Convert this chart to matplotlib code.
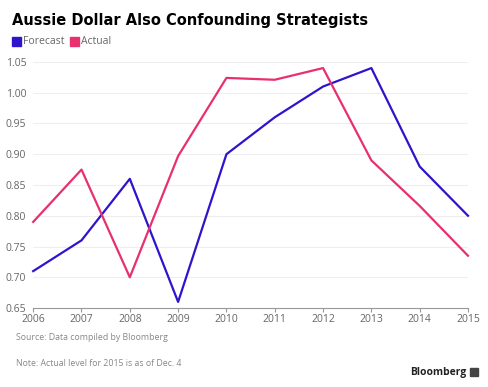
import matplotlib
matplotlib.use("Agg")
import matplotlib.pyplot as plt
from matplotlib.patches import Rectangle

# data
years = [2006, 2007, 2008, 2009, 2010, 2011, 2012, 2013, 2014, 2015]
forecast = [0.71, 0.76, 0.86, 0.66, 0.90, 0.96, 1.01, 1.04, 0.88, 0.80]
actual = [0.79, 0.875, 0.70, 0.897, 1.024, 1.021, 1.04, 0.89, 0.816, 0.735]
y_ticks = [0.65, 0.70, 0.75, 0.80, 0.85, 0.90, 0.95, 1.00, 1.05]

BLUE = "#2E14CC"
PINK = "#E8306E"
GRAY = "#666666"
GRID = "#EEEEEE"

plt.rcParams["font.family"] = ["Open Sans", "DejaVu Sans"]

fig = plt.figure(figsize=(4.88, 3.87), dpi=100)
ax = fig.add_axes([0.068, 0.204, 0.891, 0.636])

ax.plot(years, forecast, color=BLUE, lw=1.6, clip_on=False)
ax.plot(years, actual, color=PINK, lw=1.6, clip_on=False)

ax.set_xlim(2006, 2015)
ax.set_ylim(0.65, 1.05)
ax.set_xticks(years)
ax.set_xticklabels([str(y) for y in years])
ax.set_yticks(y_ticks)
ax.set_yticklabels([f"{v:.2f}" for v in y_ticks])

for s in ["top", "right", "left"]:
    ax.spines[s].set_visible(False)
ax.spines["bottom"].set_color("#999999")
ax.spines["bottom"].set_linewidth(0.8)
ax.yaxis.grid(True, color=GRID, lw=0.8)
ax.set_axisbelow(True)
ax.tick_params(axis="y", length=0, pad=5, labelsize=7.5, labelcolor=GRAY)
ax.tick_params(axis="x", length=3, width=0.8, color="#999999", pad=1,
               labelsize=7.5, labelcolor=GRAY)

# title and legend
fig.text(12 / 488, 1 - 20 / 387, "Aussie Dollar Also Confounding Strategists",
         fontsize=10.5, fontweight="bold", color="black", va="center",
         family=["DejaVu Sans"])
fig.patches.append(Rectangle((12 / 488, 1 - 46 / 387), 9 / 488, 9 / 387,
                             transform=fig.transFigure, color=BLUE))
fig.text(23 / 488, 1 - 42 / 387, "Forecast", fontsize=7.5, color=GRAY, va="center")
fig.patches.append(Rectangle((70 / 488, 1 - 46 / 387), 9 / 488, 9 / 387,
                             transform=fig.transFigure, color=PINK))
fig.text(81 / 488, 1 - 42 / 387, "Actual", fontsize=7.5, color=GRAY, va="center")

# footer
fig.text(16 / 488, 1 - 338 / 387, "Source: Data compiled by Bloomberg",
         fontsize=6.3, color="#888888", va="center")
fig.text(16 / 488, 1 - 363 / 387, "Note: Actual level for 2015 is as of Dec. 4",
         fontsize=6.3, color="#888888", va="center")
fig.text(466 / 488, 1 - 372 / 387, "Bloomberg", fontsize=7.5, fontweight="bold",
         color="#222222", va="center", ha="right")
fig.patches.append(Rectangle((470 / 488, 1 - 376 / 387), 8 / 488, 8 / 387,
                             transform=fig.transFigure, color="#444444"))

fig.savefig("out.png", dpi=100, facecolor="white")
